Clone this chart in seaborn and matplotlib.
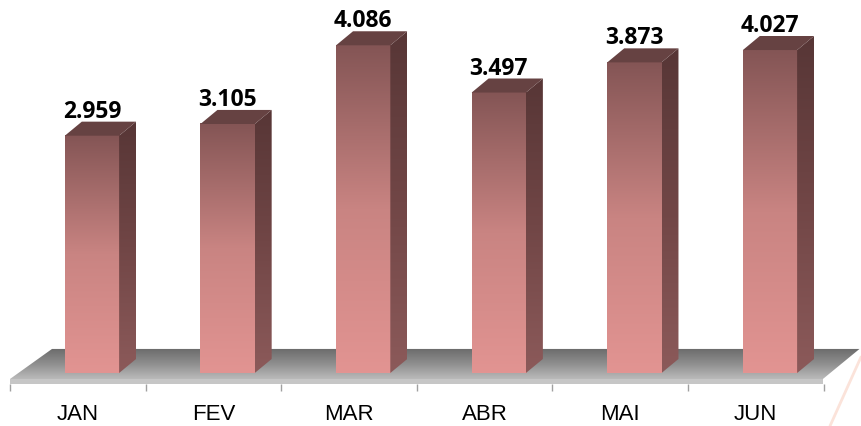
import numpy as np
import pandas as pd
import matplotlib
matplotlib.use("Agg")
import matplotlib.pyplot as plt
from matplotlib.colors import LinearSegmentedColormap
from matplotlib.patches import Polygon
from matplotlib.lines import Line2D
import seaborn as sns

MONTHS = ["JAN", "FEV", "MAR", "ABR", "MAI", "JUN"]
VALUES = [2.959, 3.105, 4.086, 3.497, 3.873, 4.027]
VALUE_LABELS = ["2.959", "3.105", "4.086", "3.497", "3.873", "4.027"]

sns.set_style("white")
plt.rcParams["font.family"] = ["Liberation Sans", "DejaVu Sans"]

W, H = 861, 427
PX_X, PX_Y = 135.6, 80.2          # pixels per category / per unit
X0_PX, Y0_PX = 92, 374            # pixel position of x=0, y=0
XLIM, YLIM = (-0.68, 5.78), (-0.35, 4.5)

fig = plt.figure(figsize=(W / 100, H / 100), dpi=100)
left = X0_PX + XLIM[0] * PX_X
bottom = H - (Y0_PX - YLIM[0] * PX_Y)
ax = fig.add_axes([left / W, bottom / H,
                   (XLIM[1] - XLIM[0]) * PX_X / W, (YLIM[1] - YLIM[0]) * PX_Y / H])

# fake 3d depth, in data units (about 17 px right, 14 px up)
DX, DY = 0.125, 0.175

front_cmap = LinearSegmentedColormap.from_list("front", ["#e29492", "#c98482", "#845555"])
side_cmap = LinearSegmentedColormap.from_list("side", ["#8c5a5a", "#714646", "#573636"])
floor_cmap = LinearSegmentedColormap.from_list("floor", ["#bababa", "#8e8e8e", "#6a6a6a"])
grad = np.linspace(0, 1, 256).reshape(-1, 1)

# ---- floor ----
floor_pts = [(-0.605, -0.075), (5.39, -0.075), (5.66, 0.30), (-0.295, 0.30)]
floor = Polygon(floor_pts, closed=True, facecolor="none", edgecolor="none", zorder=1)
ax.add_patch(floor)
im = ax.imshow(grad, extent=[-0.605, 5.66, -0.075, 0.30], cmap=floor_cmap, origin="lower",
               aspect="auto", zorder=1)
im.set_clip_path(floor)
strip = Polygon([(-0.605, -0.137), (5.39, -0.137), (5.39, -0.075), (-0.605, -0.075)],
                closed=True, facecolor="#c6c6c6", edgecolor="none", zorder=1)
ax.add_patch(strip)

# ---- bars ----
df = pd.DataFrame({"mes": MONTHS, "valor": VALUES})
sns.barplot(data=df, x="mes", y="valor", width=0.4, color="#d88a89", ax=ax, zorder=3)
bars = ax.containers[-1]

for p, lab in zip(bars, VALUE_LABELS):
    x0, w, h = p.get_x(), p.get_width(), p.get_height()
    p.set_facecolor("none")
    p.set_edgecolor("none")
    ax.imshow(grad, extent=[x0, x0 + w, 0, h], cmap=front_cmap, origin="lower",
              aspect="auto", zorder=3)
    side = Polygon([(x0 + w, 0), (x0 + w + DX, DY), (x0 + w + DX, h + DY), (x0 + w, h)],
                   closed=True, facecolor="none", edgecolor="none", zorder=3)
    ax.add_patch(side)
    sd = ax.imshow(grad, extent=[x0 + w, x0 + w + DX, 0, h + DY], cmap=side_cmap,
                   origin="lower", aspect="auto", zorder=3)
    sd.set_clip_path(side)
    top = Polygon([(x0, h), (x0 + w, h), (x0 + w + DX, h + DY), (x0 + DX, h + DY)],
                  closed=True, facecolor="#664242", edgecolor="none", zorder=4, clip_on=False)
    ax.add_patch(top)
    ax.annotate(lab, (x0 + w / 2, h + DY), xytext=(0, 3.5), textcoords="offset points",
                ha="center", va="baseline", fontsize=16.5, fontweight="bold",
                family=["Open Sans", "DejaVu Sans"], color="black", zorder=5)

ax.set_xlim(*XLIM)
ax.set_ylim(*YLIM)

# ---- axis ----
for s in ax.spines.values():
    s.set_visible(False)
ax.set_yticks([])
ax.set_xticks(np.arange(len(MONTHS)) - 0.105, MONTHS)
ax.tick_params(axis="x", length=0, pad=1.5, labelsize=16, labelcolor="black")
ax.set_xlabel("")
ax.set_ylabel("")
ax.vlines(np.arange(len(MONTHS) + 1) - 0.605, -0.224, -0.137, color="#a0a0a0", lw=1, clip_on=False)

# faint logo stroke in the corner
fig.add_artist(Line2D([861 / W, 830 / W], [1 - 358 / H, 0], color="#fbe3da", lw=2))

fig.savefig("out.png", dpi=100)
